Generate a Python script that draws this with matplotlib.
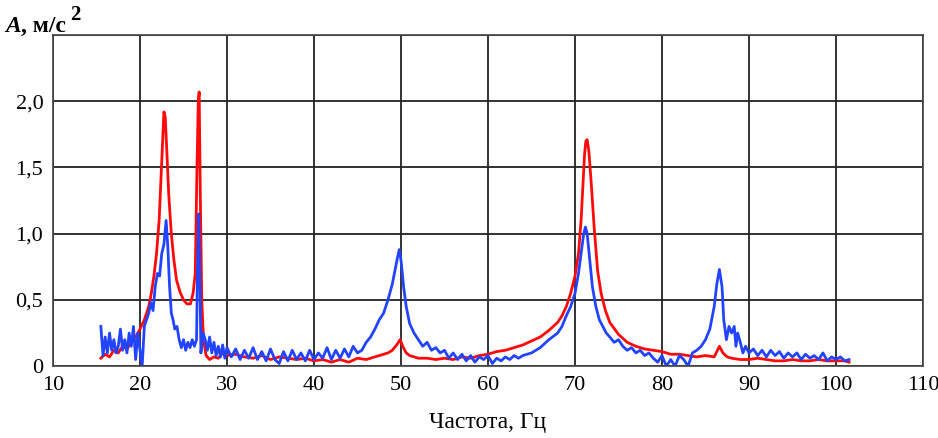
import numpy as np
import matplotlib.pyplot as plt

plt.rcParams['font.family'] = ['Liberation Serif', 'DejaVu Serif']

# красная кривая (частота, Гц / амплитуда, м/с^2)
red_f = [15.5, 16.0, 16.5, 17.0, 17.5, 18.0, 18.5, 19.0, 19.5, 20.0,
         20.5, 21.0, 21.3, 21.6, 21.9, 22.2, 22.4, 22.6, 22.75, 22.9,
         23.1, 23.3, 23.6, 23.9, 24.2, 24.6, 25.0, 25.4, 25.8, 26.1,
         26.35, 26.55, 26.7, 26.8, 26.95, 27.1, 27.3, 27.6, 28.0, 28.5,
         29.0, 29.5, 30, 31, 32, 33, 34, 35, 36, 37,
         38, 39, 40, 41, 42, 43, 44, 45, 46, 47,
         48, 48.5, 49, 49.5, 49.9, 50.2, 50.6, 51, 51.5, 52,
         53, 54, 55, 56, 57, 58, 59, 60, 61, 62,
         63, 64, 65, 66, 67, 68, 68.5, 69, 69.5, 70,
         70.4, 70.7, 70.9, 71.1, 71.25, 71.4, 71.6, 71.9, 72.2, 72.6,
         73, 73.5, 74, 75, 76, 77, 78, 79, 80, 81,
         82, 83, 84, 85, 86, 86.6, 87, 87.5, 88, 89,
         90, 91, 92, 93, 94, 95, 96, 97, 98, 99,
         100, 101, 101.5]
red_a = [0.06, 0.09, 0.07, 0.12, 0.10, 0.15, 0.13, 0.18, 0.22, 0.28,
         0.35, 0.45, 0.55, 0.68, 0.85, 1.10, 1.40, 1.70, 1.92, 1.88,
         1.60, 1.30, 1.00, 0.80, 0.65, 0.56, 0.50, 0.47, 0.47, 0.55,
         0.70, 1.50, 2.00, 2.07, 1.20, 0.50, 0.20, 0.08, 0.05, 0.07,
         0.06, 0.10, 0.08, 0.09, 0.07, 0.06, 0.08, 0.05, 0.07, 0.06,
         0.05, 0.06, 0.04, 0.05, 0.03, 0.05, 0.03, 0.06, 0.05, 0.07,
         0.09, 0.10, 0.12, 0.16, 0.20, 0.15, 0.10, 0.08, 0.07, 0.06,
         0.06, 0.05, 0.06, 0.05, 0.07, 0.06, 0.08, 0.09, 0.11, 0.12,
         0.14, 0.16, 0.19, 0.22, 0.27, 0.33, 0.38, 0.45, 0.55, 0.68,
         0.85, 1.10, 1.35, 1.60, 1.70, 1.71, 1.62, 1.35, 1.05, 0.72,
         0.55, 0.42, 0.33, 0.24, 0.18, 0.15, 0.13, 0.12, 0.11, 0.09,
         0.09, 0.08, 0.07, 0.08, 0.07, 0.15, 0.10, 0.07, 0.06, 0.05,
         0.05, 0.06, 0.05, 0.04, 0.04, 0.05, 0.04, 0.04, 0.05, 0.04,
         0.04, 0.04, 0.03]

# синяя кривая
blue_f = [15.5, 15.75, 16.0, 16.25, 16.5, 16.75, 17.0, 17.25, 17.5, 17.75,
          18.0, 18.25, 18.5, 18.75, 19.0, 19.25, 19.5, 19.75, 20.0, 20.25,
          20.5, 20.75, 21.0, 21.25, 21.5, 21.75, 22.0, 22.25, 22.5, 22.75,
          23.0, 23.2, 23.4, 23.6, 23.8, 24.0, 24.25, 24.5, 24.75, 25.0,
          25.25, 25.5, 25.75, 26.0, 26.25, 26.5, 26.6, 26.75, 26.9, 27.0,
          27.25, 27.5, 27.75, 28.0, 28.25, 28.5, 28.75, 29.0, 29.25, 29.5,
          29.75, 30.0, 30.5, 31.0, 31.5, 32.0, 32.5, 33.0, 33.5, 34.0,
          34.5, 35.0, 35.5, 36.0, 36.5, 37.0, 37.5, 38.0, 38.5, 39.0,
          39.5, 40.0, 40.5, 41.0, 41.5, 42.0, 42.5, 43.0, 43.5, 44.0,
          44.5, 45.0, 45.5, 46.0, 46.5, 47.0, 47.5, 48.0, 48.5, 49.0,
          49.3, 49.6, 49.8, 50.0, 50.3, 50.6, 51.0, 51.5, 52.0, 52.5,
          53.0, 53.5, 54.0, 54.5, 55.0, 55.5, 56.0, 56.5, 57.0, 57.5,
          58.0, 58.5, 59.0, 59.5, 60.0, 60.5, 61.0, 61.5, 62.0, 62.5,
          63.0, 63.5, 64.0, 65.0, 66.0, 67.0, 68.0, 68.5, 69.0, 69.5,
          70.0, 70.4, 70.7, 71.0, 71.2, 71.4, 71.7, 72.0, 72.4, 72.8,
          73.2, 73.6, 74.0, 74.5, 75.0, 75.5, 76.0, 76.5, 77.0, 77.5,
          78.0, 78.5, 79.0, 79.5, 80.0, 80.5, 81.0, 81.5, 82.0, 82.5,
          83.0, 83.5, 84.0, 84.5, 85.0, 85.5, 86.0, 86.3, 86.6, 86.9,
          87.1, 87.4, 87.7, 88.0, 88.3, 88.5, 88.7, 89.0, 89.3, 89.6,
          90.0, 90.5, 91.0, 91.5, 92.0, 92.5, 93.0, 93.5, 94.0, 94.5,
          95.0, 95.5, 96.0, 96.5, 97.0, 97.5, 98.0, 98.5, 99.0, 99.5,
          100.0, 100.5, 101.0, 101.5]
blue_a = [0.30, 0.08, 0.22, 0.10, 0.25, 0.12, 0.20, 0.10, 0.15, 0.28,
          0.12, 0.20, 0.10, 0.25, 0.15, 0.30, 0.05, 0.25, 0.12, 0.00,
          0.30, 0.35, 0.40, 0.48, 0.42, 0.60, 0.70, 0.68, 0.85, 0.92,
          1.10, 0.90, 0.60, 0.40, 0.35, 0.28, 0.30, 0.20, 0.14, 0.20,
          0.12, 0.18, 0.14, 0.20, 0.15, 0.20, 0.70, 1.15, 0.60, 0.10,
          0.25, 0.20, 0.12, 0.22, 0.10, 0.18, 0.08, 0.15, 0.07, 0.16,
          0.06, 0.14, 0.07, 0.13, 0.05, 0.12, 0.06, 0.14, 0.05, 0.11,
          0.04, 0.13, 0.05, 0.02, 0.11, 0.04, 0.12, 0.05, 0.10, 0.04,
          0.12, 0.05, 0.10, 0.06, 0.14, 0.05, 0.12, 0.06, 0.13, 0.07,
          0.15, 0.10, 0.12, 0.18, 0.22, 0.28, 0.35, 0.40, 0.50, 0.62,
          0.72, 0.82, 0.88, 0.80, 0.60, 0.45, 0.32, 0.25, 0.20, 0.15,
          0.18, 0.12, 0.14, 0.10, 0.12, 0.06, 0.10, 0.05, 0.09, 0.04,
          0.08, 0.03, 0.07, 0.05, 0.08, 0.02, 0.06, 0.04, 0.07, 0.05,
          0.08, 0.06, 0.08, 0.10, 0.14, 0.20, 0.25, 0.30, 0.38, 0.45,
          0.55, 0.70, 0.85, 1.00, 1.05, 1.00, 0.80, 0.60, 0.45, 0.35,
          0.30, 0.25, 0.22, 0.18, 0.20, 0.15, 0.12, 0.14, 0.10, 0.12,
          0.08, 0.10, 0.06, 0.03, 0.08, 0.00, 0.05, 0.00, 0.08, 0.05,
          0.00, 0.10, 0.12, 0.15, 0.20, 0.28, 0.45, 0.62, 0.73, 0.60,
          0.35, 0.20, 0.30, 0.25, 0.30, 0.15, 0.25, 0.18, 0.10, 0.15,
          0.10, 0.13, 0.08, 0.12, 0.07, 0.12, 0.08, 0.11, 0.06, 0.10,
          0.07, 0.10, 0.05, 0.09, 0.06, 0.08, 0.05, 0.10, 0.04, 0.07,
          0.05, 0.07, 0.04, 0.05]

x_ticks = [10, 20, 30, 40, 50, 60, 70, 80, 90, 100, 110]
y_ticks = [0, 0.5, 1.0, 1.5, 2.0, 2.5]
y_tick_labels = ['0', '0,5', '1,0', '1,5', '2,0', '']

fig = plt.figure(figsize=(9.38, 4.38), dpi=100)
ax = fig.add_axes([0.0565, 0.164, 0.9275, 0.756])

ax.plot(red_f, red_a, color='#ff0a0a', lw=2.0)
ax.plot(blue_f, blue_a, color='#2244ff', lw=2.0)

ax.set_xlim(10, 110)
ax.set_ylim(0, 2.5)
ax.set_xticks(x_ticks)
ax.set_yticks(y_ticks)
ax.set_yticklabels(y_tick_labels)
ax.grid(True, color='#222222', lw=1.3)
ax.set_axisbelow(True)
ax.tick_params(length=0, labelsize=16, pad=7)
for s in ax.spines.values():
    s.set_color('#444444')
    s.set_linewidth(1.2)

ax.set_xlabel('Частота, Гц', fontsize=17, labelpad=12)

# подпись оси Y: курсивная A, единицы и надстрочная 2
t1 = fig.text(0.006, 0.928, 'A', fontsize=17, fontstyle='italic',
              fontweight='bold', ha='left', va='baseline')
t2 = ax.annotate(', м/с', xy=(1, 0), xycoords=t1, fontsize=17,
                 fontweight='bold', ha='left', va='bottom',
                 annotation_clip=False)
ax.annotate('2', xy=(1, 0.55), xycoords=t2, xytext=(3, 0),
            textcoords='offset points', fontsize=15, fontweight='bold',
            ha='left', va='bottom', annotation_clip=False)

fig.savefig('out.png', dpi=100)
